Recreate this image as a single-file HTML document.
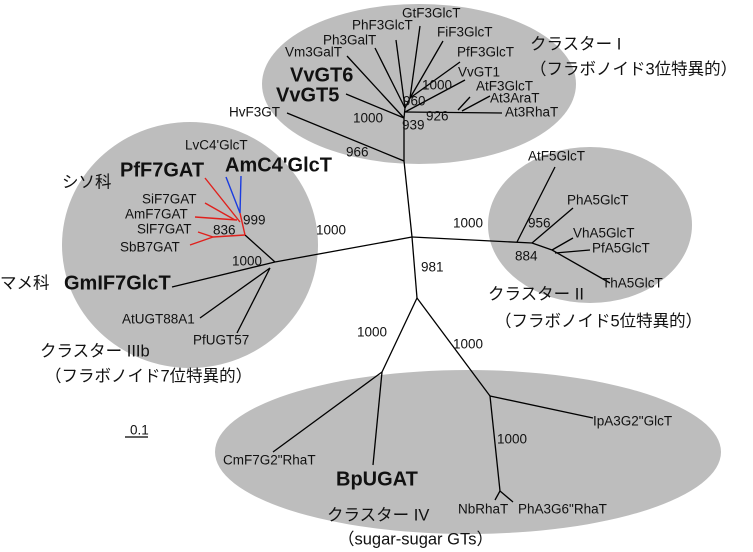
<!DOCTYPE html>
<html><head><meta charset="utf-8"><style>
html,body{margin:0;padding:0;background:#fff;}
svg{display:block;}
text{font-family:"Liberation Sans","Noto Sans CJK JP",sans-serif;font-size:13.5px;fill:#111;dominant-baseline:middle;}
.b{font-weight:bold;font-size:20px;}
.j{font-size:16.5px;}
</style></head><body>
<svg width="753" height="552" viewBox="0 0 753 552" xmlns="http://www.w3.org/2000/svg">
<g fill="#bdbdbd">
<ellipse cx="419" cy="84" rx="157" ry="80"/>
<ellipse cx="190" cy="245" rx="128" ry="123"/>
<ellipse cx="590" cy="225" rx="102" ry="78"/>
<ellipse cx="468" cy="452" rx="253" ry="82"/>
</g>
<g stroke="#000" stroke-width="1.3" fill="none">
<polyline points="287,113 404,161 412,237"/>
<line x1="404" y1="161" x2="404" y2="118"/>
<line x1="404" y1="118" x2="346" y2="94"/>
<line x1="404" y1="118" x2="347" y2="56"/>
<line x1="404" y1="118" x2="405" y2="108"/>
<line x1="405" y1="108" x2="375" y2="48"/>
<line x1="405" y1="108" x2="396" y2="40"/>
<line x1="405" y1="108" x2="410" y2="98"/>
<line x1="410" y1="98" x2="420" y2="26"/>
<line x1="410" y1="98" x2="443" y2="41"/>
<line x1="410" y1="98" x2="460" y2="62"/>
<line x1="405" y1="112" x2="465" y2="80"/>
<line x1="405" y1="112" x2="502" y2="113"/>
<line x1="458" y1="110" x2="470" y2="97"/>
<line x1="462" y1="111" x2="490" y2="96"/>
<line x1="412" y1="237" x2="275" y2="262"/>
<line x1="275" y1="262" x2="245" y2="235"/>
<line x1="275" y1="262" x2="172" y2="287"/>
<line x1="270" y1="268" x2="200" y2="318"/>
<line x1="270" y1="268" x2="237" y2="333"/>
<line x1="412" y1="237" x2="532" y2="243"/>
<line x1="517" y1="242" x2="555" y2="167"/>
<line x1="532" y1="243" x2="573" y2="208"/>
<line x1="532" y1="243" x2="552" y2="250"/>
<line x1="552" y1="250" x2="610" y2="283"/>
<line x1="552" y1="250" x2="573" y2="238"/>
<line x1="555" y1="253" x2="590" y2="250"/>
<line x1="412" y1="237" x2="417" y2="298"/>
<line x1="417" y1="298" x2="382" y2="372"/>
<line x1="382" y1="372" x2="273" y2="452"/>
<line x1="382" y1="372" x2="373" y2="465"/>
<line x1="417" y1="298" x2="490" y2="396"/>
<line x1="490" y1="396" x2="593" y2="418"/>
<line x1="490" y1="396" x2="500" y2="491"/>
<line x1="500" y1="491" x2="495" y2="500"/>
<line x1="500" y1="491" x2="513" y2="502"/>
<line x1="125" y1="437" x2="148" y2="437"/>
</g>
<g stroke="#e0201c" stroke-width="1.4" fill="none">
<line x1="205" y1="178" x2="240" y2="222"/>
<line x1="205" y1="203" x2="235" y2="220"/>
<line x1="195" y1="217" x2="237" y2="220"/>
<line x1="240" y1="213" x2="245" y2="235"/>
<line x1="245" y1="235" x2="213" y2="237"/>
<line x1="198" y1="232" x2="213" y2="237"/>
<line x1="190" y1="245" x2="213" y2="237"/>
</g>
<g stroke="#1a3ce0" stroke-width="1.4" fill="none">
<line x1="226" y1="177" x2="240" y2="213"/>
<line x1="241" y1="176" x2="240" y2="213"/>
</g>
<text x="402" y="14">GtF3GlcT</text>
<text x="352" y="26">PhF3GlcT</text>
<text x="437" y="33">FiF3GlcT</text>
<text x="323" y="41">Ph3GalT</text>
<text x="457" y="53">PfF3GlcT</text>
<text x="285" y="53">Vm3GalT</text>
<text x="290" y="76" class="b">VvGT6</text>
<text x="276" y="96" class="b">VvGT5</text>
<text x="458" y="73">VvGT1</text>
<text x="476" y="87">AtF3GlcT</text>
<text x="490" y="99">At3AraT</text>
<text x="505" y="113">At3RhaT</text>
<text x="229" y="113">HvF3GT</text>
<text x="353" y="119">1000</text>
<text x="403" y="102">960</text>
<text x="422" y="86">1000</text>
<text x="402" y="126">939</text>
<text x="426" y="117">926</text>
<text x="346" y="153">966</text>
<text x="530" y="45" class="j">クラスター I</text>
<text x="530" y="70" class="j">（フラボノイド3位特異的）</text>
<text x="185" y="146">LvC4'GlcT</text>
<text x="120" y="171" class="b">PfF7GAT</text>
<text x="225" y="166" class="b">AmC4'GlcT</text>
<text x="62" y="183" class="j">シソ科</text>
<text x="142" y="200">SiF7GAT</text>
<text x="125" y="215">AmF7GAT</text>
<text x="137" y="230">SlF7GAT</text>
<text x="120" y="248">SbB7GAT</text>
<text x="243" y="221">999</text>
<text x="213" y="231">836</text>
<text x="316" y="231">1000</text>
<text x="232" y="262">1000</text>
<text x="0" y="284" class="j">マメ科</text>
<text x="64" y="284" class="b">GmIF7GlcT</text>
<text x="122" y="320">AtUGT88A1</text>
<text x="193" y="341">PfUGT57</text>
<text x="40" y="352" class="j">クラスター IIIb</text>
<text x="45" y="377" class="j">（フラボノイド7位特異的）</text>
<text x="528" y="157">AtF5GlcT</text>
<text x="567" y="201">PhA5GlcT</text>
<text x="573" y="234">VhA5GlcT</text>
<text x="592" y="249">PfA5GlcT</text>
<text x="602" y="284">ThA5GlcT</text>
<text x="453" y="224">1000</text>
<text x="528" y="224">956</text>
<text x="515" y="257">884</text>
<text x="421" y="268">981</text>
<text x="488" y="295" class="j">クラスター II</text>
<text x="495" y="322" class="j">（フラボノイド5位特異的）</text>
<text x="357" y="333">1000</text>
<text x="453" y="345">1000</text>
<text x="593" y="422">IpA3G2"GlcT</text>
<text x="497" y="440">1000</text>
<text x="223" y="461">CmF7G2"RhaT</text>
<text x="336" y="480" class="b">BpUGAT</text>
<text x="458" y="510">NbRhaT</text>
<text x="518" y="510">PhA3G6"RhaT</text>
<text x="327" y="516" class="j">クラスター IV</text>
<text x="338" y="540" class="j">（sugar-sugar GTs）</text>
<text x="130" y="431">0.1</text>
</svg>
</body></html>
